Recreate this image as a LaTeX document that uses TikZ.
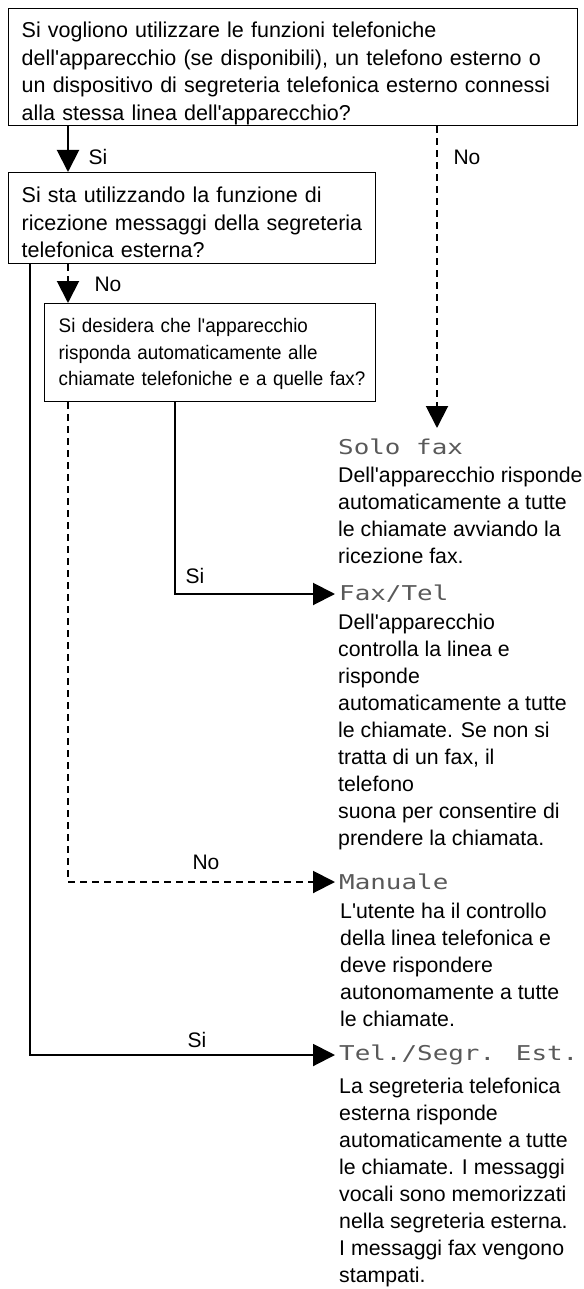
\documentclass[tikz,border=0pt]{standalone}
\usepackage{fontspec}
\setmainfont{Liberation Sans}
\newfontfamily\lcdfont[FakeStretch=1.27]{DejaVu Sans Mono}
\newfontfamily\boxthreefont[FakeStretch=0.96]{Liberation Sans}
\newcommand\apos{\textquotesingle}
\usetikzlibrary{arrows.meta}
\begin{document}
\begin{tikzpicture}[x=1pt,y=-1pt,
  box/.style={draw, line width=1.4pt, anchor=north west, inner xsep=13pt, inner ysep=0pt, align=left,
    font=\fontsize{21.5}{27.5}\selectfont},
  lbl/.style={inner sep=0pt, font=\fontsize{21}{25}\selectfont},
  conn/.style={line width=2pt, -{Triangle[length=22pt,width=22pt]}},
  dconn/.style={conn, dash pattern=on 7pt off 5pt},
  head/.style={anchor=west, inner xsep=4pt, inner ysep=0pt, text=black!65,
    font=\lcdfont\fontsize{20.4}{24}\selectfont},
  desc/.style={anchor=north west, inner sep=0pt, align=left,
    font=\fontsize{21.3}{27}\selectfont}
]
\useasboundingbox (0,0) rectangle (583,1289);

\node[box, minimum width=569pt, minimum height=117pt, text width=543pt] (q1) at (8,8)
  {\rule{0pt}{27.7pt}Si vogliono utilizzare le funzioni telefoniche\\
   dell\apos apparecchio (se disponibili), un telefono esterno o\\
   un dispositivo di segreteria telefonica esterno connessi\\
   alla stessa linea dell\apos apparecchio?};
\node[box, minimum width=367pt, minimum height=91pt, text width=341pt] (q2) at (8,172)
  {\rule{0pt}{24.7pt}Si sta utilizzando la funzione di\\
   \mbox{ricezione messaggi della segreteria}\\
   telefonica esterna?};
\node[box, minimum width=331pt, minimum height=98pt, text width=303pt, inner xsep=14pt,
  font=\boxthreefont\fontsize{19.6}{26.5}\selectfont] (q3) at (44,303)
  {\rule{0pt}{17.3pt}Si desidera che l\apos apparecchio\\
   risponda automaticamente alle\\
   \mbox{chiamate telefoniche e a quelle fax?}};

\node[head] (h1) at (334,447) {Solo fax};
\node[head] (h2) at (335,594) {Fax/Tel};
\node[head] (h3) at (335,882) {Manuale};
\node[head] (h4) at (335,1055) {Tel./Segr. Est.};

\node[desc] (d1) at (338,467) {Dell\apos apparecchio risponde\\ automaticamente a tutte\\ le chiamate avviando la\\ ricezione fax.};
\node[desc] (d2) at (338,614) {Dell\apos apparecchio\\ controlla la linea e\\ risponde\\ automaticamente a tutte\\ le chiamate. Se non si\\ tratta di un fax, il\\ telefono\\ suona per consentire di\\ prendere la chiamata.};
\node[desc] (d3) at (340,903) {L\apos utente ha il controllo\\ della linea telefonica e\\ deve rispondere\\ autonomamente a tutte\\ le chiamate.};
\node[desc] (d4) at (339,1078) {La segreteria telefonica\\ esterna risponde\\ automaticamente a tutte\\ le chiamate. I messaggi\\ vocali sono memorizzati\\ nella segreteria esterna.\\ I messaggi fax vengono\\ stampati.};

\coordinate (xa) at (68,0);
\coordinate (xb) at (437,0);
\coordinate (xc) at (30,0);
\coordinate (xd) at (175,0);
\coordinate (t1) at (437,428);

\draw[conn] (q1.south -| xa) -- (q2.north -| xa);
\draw[dconn] (q1.south -| xb) -- (t1);
\draw[dconn] (q2.south -| xa) -- (q3.north -| xa);
\draw[conn] (q3.south -| xd) |- (h2.west);
\draw[dconn] (q3.south -| xa) |- (h3.west);
\draw[conn] (q2.south -| xc) |- (h4.west);

\node[lbl] (l1) at (98,157) {Si};
\node[lbl] (l2) at (467,157) {No};
\node[lbl] (l3) at (108,284) {No};
\node[lbl] (l4) at (195,576) {Si};
\node[lbl] (l5) at (206,862) {No};
\node[lbl] (l6) at (197,1040) {Si};
\end{tikzpicture}
\end{document}
